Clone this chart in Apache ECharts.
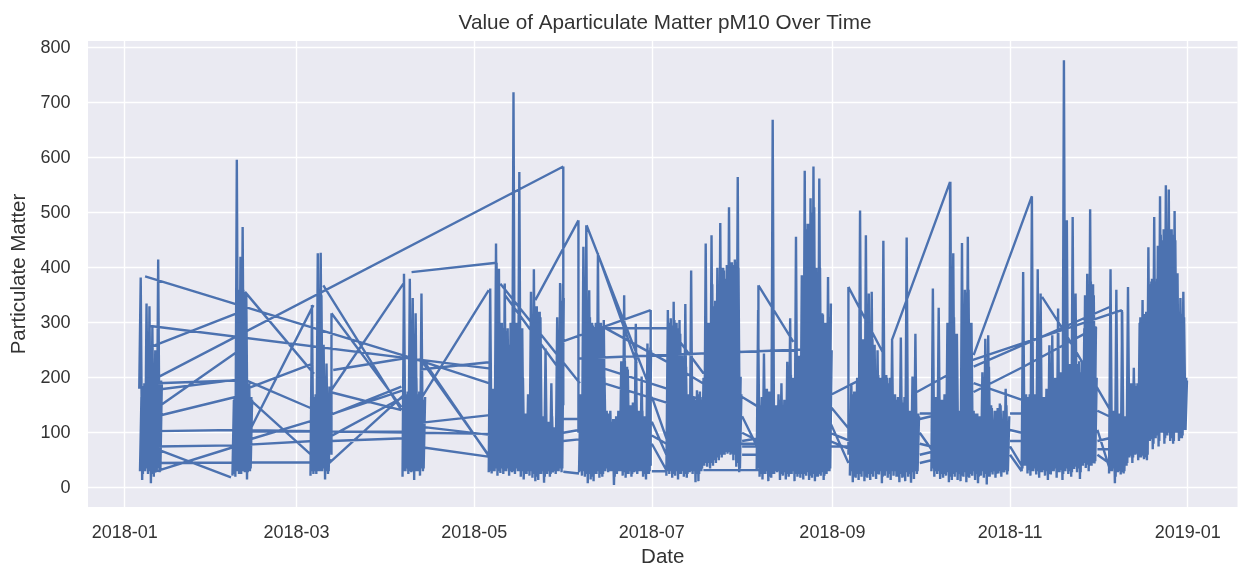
<!DOCTYPE html>
<html><head><meta charset="utf-8">
<style>html,body{margin:0;padding:0;background:#fff}#c{width:1239px;height:567px}</style>
<script src="https://cdn.jsdelivr.net/npm/echarts@6/dist/echarts.min.js"></script>
</head><body><div id="c"></div>
<script>
const chartTitle = 'Value of Aparticulate Matter pM10 Over Time';
const xName = 'Date';
const yName = 'Particulate Matter';
const xTickDates = ['2018-01-01','2018-03-01','2018-05-01','2018-07-01','2018-09-01','2018-11-01','2019-01-01'];
const yTicks = [0,100,200,300,400,500,600,700,800];

// Each cluster: first reading's day of year, then low,high readings half a day apart (spikes)
const janStart = 5;
const janVals = [180,382, 14,185, 30,335, 25,330, 8,292, 20,250, 30,415, 28,195];
const febStart = 37;
const febVals = [22,160, 20,596, 30,360, 25,474, 30,355, 15,190, 30,165];
const marStart = 63.8;
const marVals = [22,332, 25,165, 25,426, 30,427, 30,260, 15,226, 25,184];
const aprStart = 95.4;
const aprVals = [20,389, 30,170, 25,380, 28,345, 14,317, 30,170, 22,353, 30,160];
const mayStart = 125;
const mayVals = [28,362, 26,180, 30,444, 22,398, 27,300, 25,371, 30,290, 22,300, 28,719, 25,300, 30,574, 20,290, 15,130, 25,170, 22,356, 18,397, 12,330, 14,320, 25,130, 9,253, 25,120, 20,190, 28,110, 25,310, 30,372, 28,370];
const junStart = 156;
const junVals = [28,170, 22,438, 20,477, 8,359, 15,300, 12,290, 25,426, 18,300, 20,305, 30,140, 28,135, 30,120, 5,125, 25,140, 30,230, 22,350, 18,220, 25,150, 20,155, 28,298, 25,140, 30,202, 20,130, 15,262, 25,255];
const julStart = 186;
const julVals = [22,323, 25,308, 18,338, 22,300, 15,305, 25,240, 20,334, 18,170, 28,395, 25,165, 10,177, 12,175, 30,160, 40,444, 38,300, 35,459, 40,330, 45,400, 50,481, 55,400, 60,380, 62,510, 60,410, 50,415, 38,565, 28,202];
const augStart = 217;
const augVals = [30,323, 20,150, 15,244, 25,180, 12,175, 18,669, 25,150, 28,170, 14,190, 22,160, 15,229, 20,308, 25,200, 12,456, 20,240, 18,386, 15,576, 22,480, 14,526, 18,584, 12,400, 20,562, 22,317, 14,300, 25,383, 30,335];
const sepStart = 249;
const sepVals = [22,190, 10,175, 18,200, 14,504, 20,270, 12,459, 18,353, 14,356, 20,260, 16,250, 24,200, 8,449, 22,205, 18,190, 14,268, 22,170, 20,165, 10,273, 18,155, 12,455, 20,140, 9,202, 16,280, 25,135];
const octStart = 277;
const octVals = [30,362, 20,165, 25,327, 16,160, 18,170, 22,300, 10,556, 14,426, 20,280, 14,140, 12,445, 20,360, 10,456, 18,300, 22,140, 14,135, 8,130, 22,210, 18,271, 6,277, 20,150, 24,120, 18,140, 26,153, 20,110, 28,180, 24,120];
const novStart = 308;
const novVals = [30,392, 40,170, 26,165, 22,530, 30,170, 24,397, 18,353, 28,165, 22,180, 14,259, 24,277, 30,200, 18,326, 28,210, 14,777, 30,486, 25,225, 20,492, 34,353, 28,225, 16,210, 40,290, 36,389, 30,506, 40,370, 44,292];
const decStart = 338;
const decVals = [26,397, 30,140, 8,360, 28,135, 24,320, 26,130, 40,365, 55,190, 45,218, 60,185, 50,300, 55,341, 52,316, 50,437, 85,375, 70,492, 90,380, 75,530, 100,450, 80,550, 95,542, 85,470, 80,503, 100,390, 85,345, 90,356, 105,200];

// Everyday readings between the spikes, a quarter day later: low, high
const janBulk = [30,165, 25,190, 35,260, 30,250, 25,200, 30,205, 35,200, 30,190];
const febBulk = [25,165, 30,360, 25,420, 30,360, 28,350, 28,190, 35,160];
const marBulk = [30,160, 30,170, 30,350, 30,350, 35,180, 30,170, 30,175];
const aprBulk = [30,170, 35,175, 30,300, 30,280, 30,200, 30,175, 35,170, 35,165];
const mayBulk = [30,170, 30,175, 35,175, 30,300, 35,290, 30,285, 35,260, 30,240, 30,300, 35,295, 30,300, 30,200, 25,135, 30,140, 30,300, 25,330, 20,320, 25,310, 30,120, 20,125, 30,110, 25,130, 30,100, 30,280, 35,340, 35,345];
const junBulk = [30,165, 30,200, 25,300, 25,310, 20,295, 25,300, 30,300, 25,290, 25,200, 35,135, 30,140, 30,125, 20,130, 30,135, 30,220, 28,230, 25,215, 30,150, 25,150, 30,155, 30,135, 30,140, 25,130, 25,250, 30,250];
const julBulk = [30,300, 30,295, 25,305, 30,290, 25,280, 30,200, 25,220, 25,165, 30,170, 30,160, 25,170, 25,165, 35,200, 45,290, 45,300, 45,370, 50,340, 55,350, 60,400, 60,395, 65,405, 65,410, 62,405, 60,410, 45,400, 35,170];
const augBulk = [35,170, 25,165, 25,180, 30,175, 20,170, 25,165, 30,150, 30,160, 25,150, 28,155, 25,190, 25,205, 30,200, 25,240, 25,235, 25,330, 25,470, 28,480, 22,500, 25,510, 20,390, 25,400, 28,315, 22,300, 30,310, 35,250];
const sepBulk = [30,170, 20,175, 25,180, 25,230, 30,270, 20,275, 25,280, 25,270, 30,200, 25,205, 30,195, 20,200, 30,200, 25,200, 30,165, 30,160, 20,165, 25,160, 20,165, 28,140, 25,135, 28,130, 30,130, 30,130];
const octBulk = [35,165, 30,165, 30,170, 25,160, 25,165, 28,200, 20,300, 25,310, 28,280, 25,135, 22,300, 28,355, 20,360, 25,300, 30,135, 25,135, 20,130, 30,200, 25,225, 20,220, 28,145, 30,140, 25,145, 30,150, 28,140, 32,150, 30,130];
const novBulk = [35,165, 40,165, 32,170, 30,165, 35,165, 30,160, 28,170, 32,165, 30,170, 25,180, 30,190, 35,200, 28,205, 32,200, 25,225, 35,230, 30,220, 28,225, 38,225, 35,230, 28,230, 45,350, 42,370, 40,375, 45,350, 48,200];
const decBulk = [30,140, 35,135, 20,140, 30,130, 28,135, 30,130, 45,180, 58,190, 55,190, 62,190, 55,310, 58,316, 55,320, 60,370, 88,380, 80,375, 95,440, 85,460, 100,470, 90,465, 100,470, 90,460, 85,450, 100,320, 90,316, 95,310, 105,195];

// Long jumps between clusters: dayA, valueA, dayB, valueB
const jumps = [
7,384,99,235, 8.9,294,125,217, 9,256,38,316, 11.5,201,150.6,584, 11,145,38,245, 11,130,38,165, 11,103,38,105, 38,105,125,98,
11,190,38,195, 11,178,38,196, 11,75,38,77, 38,77,65,85, 11,70,36.5,19, 9,27,38,75, 10,45,38,46, 38,46,65,46, 65,46,71,50,
41.3,356,65,207, 41.3,196,64.2,144, 42,165,64.8,56, 43.6,111,64.8,332, 42,180,64.8,226, 38,80,65,123, 65,123,96,178, 42,102,96,102,
68.2,368,95,141, 71,317,95,147, 71,317,71,60, 70.5,174,95.7,371, 70,44,95.7,168, 70.5,132,95,184, 70.5,93,95.7,165, 70.5,174,95,141, 71.6,214,95.7,235, 71,85,96,90,
98.5,392,127.7,409, 127.7,409,127.7,300, 150.6,584,150.6,150, 101.4,235,125.4,56, 102.5,232,126,50, 101.4,159,125,359, 101.4,118,125.4,132, 101.4,74,125.4,56, 101.4,111,125.4,96, 101.4,100,125.4,98, 99,235,125,190, 101.4,215,125,228,
129,371,156.3,190, 130.6,350,150,210, 141,341,155.8,486, 155.8,486,155.8,100, 158.6,477,180,186, 162.4,426,175.8,226, 148.3,262,180.6,323, 180.6,323,180.6,40,
164.4,292,187.2,226, 187.2,226,198.5,190, 161,290,187.2,290, 187.2,290,198.7,208, 156,235,198,244, 198,244,241,253, 164.4,217,198,160, 164.4,190,198,135, 198.7,80,217.6,80,
217.6,368,229.6,265, 217.6,368,217.6,80, 248.5,365,248.5,60, 248.5,365,260.5,244, 198.7,32,217.6,32, 150.6,29,156,26, 150.6,125,156,125, 150.6,100,156,105, 150.6,85,156,88,
241,165,252.5,196, 242.4,117,248.5,45, 242,85,249,70, 242,100,249,85, 242,75,249,75, 242,150,249,105,
212,165,217.6,147, 212,130,217.6,70, 212,100,217.6,85, 212,85,217.6,90, 212,75,217.6,75, 212,60,217,60, 212,32,217.6,32,
181,165,187,75, 181,80,186,32, 181,30,186,30, 181,95,186,80, 181,120,186,60,
273,135,277,135, 273,125,277,130, 273,100,277,70, 273,80,277,75, 273,60,277,65, 273,45,277,50,
304,135,308,135, 304,105,308,100, 304,75,308,40, 304,60,308,30, 304,85,308,85,
334,140,338,130, 334,105,338,38, 334,60,338,45, 334,70,338,70, 334,85,338,90,
263.4,268,283.4,556, 283.4,556,283.4,100, 291.5,241,311.5,530, 311.5,530,311.5,100, 291,232,342.4,323, 291.5,220,338.4,329, 342.4,323,342.4,80, 291.5,174,308.6,220, 308.6,220,333.8,292, 315,347,322.4,286, 322.4,286,338.4,141, 272,174,285.7,214, 291.5,190,308.6,159
];

const DAY = 86400000, T0 = Date.UTC(2018,0,1);
const when = d => T0 + d*DAY;
const points = [];
const addRun = (s,vals) => {
  vals.forEach((v,i)=>points.push([when(s+i*0.5),v]));
  points.push([when(s+vals.length*0.5),null]);
};
[[janStart,janVals,janBulk],[febStart,febVals,febBulk],[marStart,marVals,marBulk],[aprStart,aprVals,aprBulk],[mayStart,mayVals,mayBulk],[junStart,junVals,junBulk],[julStart,julVals,julBulk],[augStart,augVals,augBulk],[sepStart,sepVals,sepBulk],[octStart,octVals,octBulk],[novStart,novVals,novBulk],[decStart,decVals,decBulk]].forEach(([s,vals,bulk])=>{
  addRun(s,vals);
  addRun(s+0.25,bulk);
});
for(let i=0;i<jumps.length;i+=4){
  points.push([when(jumps[i]),jumps[i+1]],[when(jumps[i+2]),jumps[i+3]],[when(jumps[i+2]),null]);
}
const xTicks = xTickDates.map(s=>Date.parse(s+'T00:00:00Z'));
const FONT='"Liberation Sans", Arial, sans-serif', INK='#333333';
const chart = echarts.init(document.getElementById('c'),null,{renderer:'canvas'});
chart.setOption({
  animation:false,
  backgroundColor:'#fff',
  title:{text:chartTitle,left:660,top:8,textAlign:'center',textStyle:{fontFamily:FONT,fontWeight:'normal',fontSize:20.7,color:INK}},
  grid:{left:88,top:41,width:1149.5,height:466,backgroundColor:'#EAEAF2',show:true,borderWidth:0,outerBoundsMode:'none'},
  xAxis:{type:'value',scale:true,min:when(-12.6),max:when(382.1),name:xName,nameLocation:'middle',nameGap:39,
    nameTextStyle:{fontFamily:FONT,fontSize:20.5,color:INK},
    axisLine:{show:false},
    axisTick:{show:false,customValues:xTicks},
    splitLine:{show:true,lineStyle:{color:'#fff',width:1.4}},
    axisLabel:{customValues:xTicks,margin:17,fontFamily:FONT,fontSize:18,color:INK,hideOverlap:false,
      formatter:v=>{const d=new Date(v);return d.getUTCFullYear()+'-'+String(d.getUTCMonth()+1).padStart(2,'0');}}},
  yAxis:{type:'value',min:-35,max:812,name:yName,nameLocation:'middle',nameGap:58,
    nameTextStyle:{fontFamily:FONT,fontSize:20.5,color:INK},
    axisLine:{show:false},
    axisTick:{show:false,customValues:yTicks},
    splitLine:{show:true,lineStyle:{color:'#fff',width:1.4}},
    axisLabel:{customValues:yTicks,margin:17.5,fontFamily:FONT,fontSize:18,color:INK}},
  series:[{type:'line',data:points,showSymbol:false,connectNulls:false,smooth:false,sampling:false,clip:true,
    lineStyle:{color:'#4C72B0',width:2.4},itemStyle:{color:'#4C72B0'}}]
});
</script></body></html>
